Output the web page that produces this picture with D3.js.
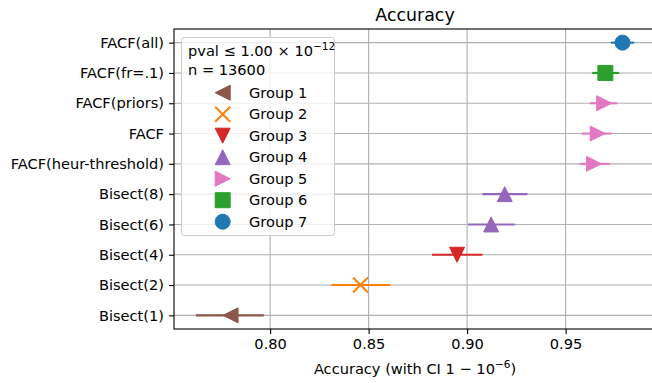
<!DOCTYPE html>
<html>
<head>
<meta charset="utf-8">
<script src="https://cdn.jsdelivr.net/npm/d3@7"></script>
<style>
  html, body { margin: 0; padding: 0; background: #fff; }
  svg { display: block; font-family: "DejaVu Sans", sans-serif; }
</style>
</head>
<body>
<svg id="chart" width="652" height="383"></svg>
<script>
// ---- data ----
const categories = ["Bisect(1)", "Bisect(2)", "Bisect(4)", "Bisect(6)", "Bisect(8)",
  "FACF(heur-threshold)", "FACF", "FACF(priors)", "FACF(fr=.1)", "FACF(all)"];
const accuracy = [0.7799, 0.8459, 0.8949, 0.9122, 0.9191, 0.9644, 0.9663, 0.9696, 0.9702, 0.9789];
const ciLow    = [0.7623, 0.8310, 0.8822, 0.9005, 0.9078, 0.9572, 0.9581, 0.9623, 0.9635, 0.9730];
const ciHigh   = [0.7968, 0.8611, 0.9078, 0.9242, 0.9306, 0.9724, 0.9733, 0.9763, 0.9772, 0.9848];
const groupOf  = [1, 2, 3, 4, 4, 5, 5, 5, 6, 7];
const groupNames = ["Group 1", "Group 2", "Group 3", "Group 4", "Group 5", "Group 6", "Group 7"];
const groupMarkers = ["left", "x", "down", "up", "right", "square", "circle"];
const groupColors = ["#8c564b", "#ff7f0e", "#d62728", "#9467bd", "#e377c2", "#2ca02c", "#1f77b4"];
const xTicks = [0.80, 0.85, 0.90, 0.95];
const xDomain = [0.7512, 0.9959];

// ---- layout ----
const svg = d3.select("#chart");
const L = 174, R = 656, T = 29, B = 329;
const FS = 14.6;
const x = d3.scaleLinear().domain(xDomain).range([L, R]);
const y = d3.scaleLinear().domain([-0.45, categories.length - 1 + 0.45]).range([B, T]);
const gridColor = "#b0b0b0";

function markerPath(type, s) {
  const h = s / 2, p = d3.path();
  switch (type) {
    case "up": p.moveTo(0, -h); p.lineTo(-h, h); p.lineTo(h, h); p.closePath(); break;
    case "down": p.moveTo(0, h); p.lineTo(-h, -h); p.lineTo(h, -h); p.closePath(); break;
    case "left": p.moveTo(-h, 0); p.lineTo(h, -h); p.lineTo(h, h); p.closePath(); break;
    case "right": p.moveTo(h, 0); p.lineTo(-h, -h); p.lineTo(-h, h); p.closePath(); break;
    case "square": p.rect(-h, -h, s, s); break;
    case "circle": p.arc(0, 0, h, 0, 2 * Math.PI); break;
    case "x": p.moveTo(-h, -h); p.lineTo(h, h); p.moveTo(-h, h); p.lineTo(h, -h); break;
  }
  return p.toString();
}
function drawMarker(g, type, color, s) {
  const path = g.append("path").attr("d", markerPath(type, s));
  if (type === "x") path.attr("fill", "none").attr("stroke", color).attr("stroke-width", 2);
  else path.attr("fill", color).attr("stroke", color).attr("stroke-width", 1);
}

const clip = svg.append("defs").append("clipPath").attr("id", "plotclip");
clip.append("rect").attr("x", L).attr("y", T).attr("width", R - L).attr("height", B - T);

// grid
const grid = svg.append("g");
grid.selectAll("line.gx").data(xTicks).join("line")
  .attr("x1", d => x(d)).attr("x2", d => x(d)).attr("y1", T).attr("y2", B)
  .attr("stroke", gridColor).attr("stroke-width", 1.1);
grid.selectAll("line.gy").data(categories).join("line")
  .attr("x1", L).attr("x2", R).attr("y1", (d, i) => y(i)).attr("y2", (d, i) => y(i))
  .attr("stroke", gridColor).attr("stroke-width", 1.1);

// error bars + markers
const plot = svg.append("g").attr("clip-path", "url(#plotclip)");
categories.forEach((c, i) => {
  const gi = groupOf[i] - 1;
  plot.append("line")
    .attr("x1", x(ciLow[i])).attr("x2", x(ciHigh[i]))
    .attr("y1", y(i)).attr("y2", y(i))
    .attr("stroke", groupColors[gi]).attr("stroke-width", 2.1);
  const g = plot.append("g").attr("transform", `translate(${x(accuracy[i])},${y(i)})`);
  drawMarker(g, groupMarkers[gi], groupColors[gi], 15);
});

// axes
const xAxis = d3.axisBottom(x).tickValues(xTicks).tickFormat(d3.format(".2f")).tickSizeOuter(0).tickSize(5).tickPadding(5);
const gx = svg.append("g").attr("transform", `translate(0,${B})`).call(xAxis);
gx.select(".domain").remove();
gx.selectAll(".tick line").attr("stroke", "#000").attr("stroke-width", 1.1);
gx.selectAll(".tick text").attr("font-size", FS).attr("fill", "#000").attr("font-family", "DejaVu Sans");

const yAxis = d3.axisLeft(y).tickValues(d3.range(categories.length)).tickFormat(i => categories[i]).tickSizeOuter(0).tickSize(5).tickPadding(5);
const gy = svg.append("g").attr("transform", `translate(${L},0)`).call(yAxis);
gy.select(".domain").remove();
gy.selectAll(".tick line").attr("stroke", "#000").attr("stroke-width", 1.1);
gy.selectAll(".tick text").attr("font-size", FS).attr("fill", "#000").attr("font-family", "DejaVu Sans");

// spines
svg.append("rect").attr("x", L).attr("y", T).attr("width", R - L).attr("height", B - T)
  .attr("fill", "none").attr("stroke", "#000").attr("stroke-width", 1.1);

// title
svg.append("text").attr("x", (L + R) / 2).attr("y", 21).attr("text-anchor", "middle")
  .attr("font-size", 17.4).attr("fill", "#000").text("Accuracy");

// x label
const xl = svg.append("text").attr("x", (L + R) / 2).attr("y", 374).attr("text-anchor", "middle")
  .attr("font-size", FS).attr("fill", "#000");
xl.append("tspan").text("Accuracy (with CI 1 − 10");
xl.append("tspan").attr("dy", -6).attr("font-size", 10.5).text("−6");
xl.append("tspan").attr("dy", 6).text(")");

// legend
const lg = svg.append("g");
lg.append("rect").attr("x", 181.5).attr("y", 37.5).attr("width", 153).attr("height", 198)
  .attr("rx", 3).attr("fill", "#fff").attr("fill-opacity", 0.8)
  .attr("stroke", "#cccccc").attr("stroke-width", 1);
const t1 = lg.append("text").attr("x", 188).attr("y", 56).attr("font-size", FS).attr("fill", "#000");
t1.append("tspan").text("pval ≤ 1.00 × 10");
t1.append("tspan").attr("dy", -6).attr("font-size", 10.5).text("−12");
lg.append("text").attr("x", 188).attr("y", 75).attr("font-size", FS).attr("fill", "#000").text("n = 13600");
groupNames.forEach((name, k) => {
  const cy = 92.7 + k * 21.5;
  const g = lg.append("g").attr("transform", `translate(222.7,${cy})`);
  drawMarker(g, groupMarkers[k], groupColors[k], 15);
  lg.append("text").attr("x", 249).attr("y", cy + 5).attr("font-size", FS).attr("fill", "#000").text(name);
});
</script>
</body>
</html>
